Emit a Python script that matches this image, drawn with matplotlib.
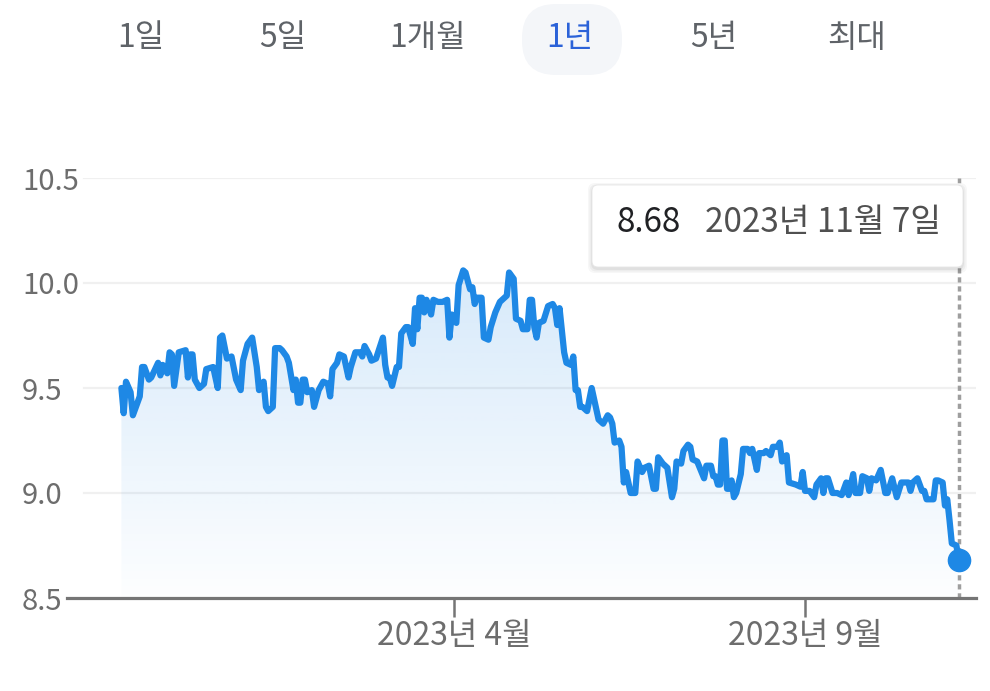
import numpy as np
import pandas as pd
import matplotlib
matplotlib.use('Agg')
import matplotlib.pyplot as plt
import matplotlib.dates as mdates
from matplotlib.patches import FancyBboxPatch
from matplotlib.transforms import blended_transform_factory, IdentityTransform

plt.rcParams['font.family'] = ['Noto Sans CJK KR', 'DejaVu Sans']

# ---------------- data ----------------
start_date = '2022-11-07'
day_offsets = [
    0, 1, 2, 4, 5, 8, 9, 10, 12, 13,
    16, 17, 18, 20, 21, 22, 23, 25, 28, 29,
    30, 31, 32, 34, 36, 37, 40, 42, 43, 44,
    46, 48, 50, 52, 53, 55, 57, 59, 60, 62,
    63, 64, 66, 67, 69, 70, 72, 73, 75, 76,
    77, 78, 79, 80, 81, 83, 84, 86, 88, 90,
    91, 92, 94, 95, 97, 99, 100, 102, 104, 105,
    106, 108, 109, 111, 114, 115, 116, 117, 118, 120,
    121, 122, 124, 125, 127, 128, 129, 130, 131, 132,
    133, 135, 136, 138, 140, 142, 143, 144, 146, 147,
    149, 150, 152, 153, 154, 155, 157, 158, 160, 161,
    163, 165, 166, 168, 169, 171, 172, 174, 175, 177,
    178, 179, 180, 181, 182, 184, 186, 188, 189, 190,
    191, 193, 194, 196, 197, 198, 199, 200, 201, 203,
    205, 206, 208, 210, 212, 213, 214, 215, 217, 218,
    219, 220, 222, 224, 225, 227, 228, 230, 232, 233,
    234, 236, 238, 240, 241, 242, 244, 245, 247, 248,
    249, 251, 254, 255, 257, 258, 259, 260, 261, 262,
    263, 264, 265, 266, 267, 268, 270, 271, 273, 274,
    275, 277, 278, 280, 281, 283, 284, 286, 287, 288,
    290, 291, 294, 296, 297, 298, 300, 302, 303, 305,
    306, 307, 308, 310, 312, 314, 316, 317, 319, 320,
    322, 323, 325, 326, 327, 329, 331, 333, 334, 336,
    338, 340, 343, 344, 345, 347, 349, 350, 351, 354,
    355, 356, 358, 359, 360, 361, 362, 364, 365,
]
rates = [
    9.50, 9.38, 9.53, 9.48, 9.37, 9.46, 9.60, 9.60, 9.54, 9.55,
    9.62, 9.56, 9.61, 9.57, 9.67, 9.66, 9.51, 9.67, 9.68, 9.55,
    9.66, 9.66, 9.54, 9.50, 9.52, 9.59, 9.60, 9.50, 9.74, 9.75,
    9.64, 9.65, 9.54, 9.49, 9.63, 9.71, 9.74, 9.60, 9.49, 9.53,
    9.41, 9.39, 9.41, 9.69, 9.69, 9.68, 9.65, 9.62, 9.49, 9.54,
    9.43, 9.43, 9.54, 9.54, 9.48, 9.49, 9.41, 9.49, 9.53, 9.52,
    9.46, 9.59, 9.62, 9.66, 9.65, 9.55, 9.60, 9.67, 9.67, 9.65,
    9.70, 9.66, 9.63, 9.64, 9.74, 9.61, 9.55, 9.55, 9.51, 9.60,
    9.60, 9.76, 9.79, 9.79, 9.71, 9.88, 9.78, 9.93, 9.93, 9.86,
    9.92, 9.85, 9.92, 9.91, 9.91, 9.92, 9.74, 9.85, 9.81, 9.99,
    10.06, 10.05, 9.97, 9.98, 9.90, 9.93, 9.93, 9.74, 9.73, 9.79,
    9.86, 9.91, 9.92, 9.94, 10.05, 10.02, 9.83, 9.82, 9.78, 9.78,
    9.92, 9.92, 9.79, 9.74, 9.81, 9.82, 9.89, 9.90, 9.88, 9.80,
    9.88, 9.67, 9.62, 9.61, 9.65, 9.49, 9.49, 9.41, 9.41, 9.39,
    9.50, 9.45, 9.35, 9.33, 9.37, 9.36, 9.33, 9.24, 9.25, 9.22,
    9.05, 9.10, 9.00, 9.00, 9.15, 9.10, 9.12, 9.13, 9.02, 9.02,
    9.17, 9.14, 9.12, 8.98, 9.02, 9.15, 9.14, 9.20, 9.23, 9.22,
    9.16, 9.15, 9.07, 9.13, 9.13, 9.08, 9.08, 9.04, 9.04, 9.25,
    9.25, 9.02, 9.02, 9.06, 8.98, 9.00, 9.09, 9.21, 9.21, 9.19,
    9.21, 9.11, 9.19, 9.19, 9.20, 9.18, 9.22, 9.22, 9.24, 9.15,
    9.18, 9.05, 9.04, 9.03, 9.10, 9.01, 9.01, 8.98, 9.04, 9.07,
    9.00, 9.07, 9.07, 9.00, 9.00, 8.99, 9.05, 8.99, 9.09, 9.00,
    9.00, 9.08, 9.07, 9.01, 9.07, 9.06, 9.11, 9.00, 9.00, 9.07,
    8.98, 9.05, 9.05, 9.01, 9.05, 9.07, 9.01, 9.01, 8.97, 8.97,
    9.06, 9.06, 9.05, 8.94, 8.97, 8.87, 8.76, 8.75, 8.68,
]
y_ticks = [8.5, 9.0, 9.5, 10.0, 10.5]
y_tick_labels = ['8.5', '9.0', '9.5', '10.0', '10.5']
x_tick_dates = ['2023-04-01', '2023-09-01']
x_tick_labels = ['2023년 4월', '2023년 9월']
range_tabs = ['1일', '5일', '1개월', '1년', '5년', '최대']
selected_tab = '1년'
tooltip_value = '8.68'
tooltip_date = '2023년 11월 7일'

# ---------------- figure ----------------
W, H = 990, 691
fig = plt.figure(figsize=(W / 100, H / 100), dpi=100)
fig.patch.set_facecolor('white')


def fx(px):
    return px / W


def fy(py):
    return 1 - py / H


ax_left, ax_right, ax_top, ax_bottom = 67, 976, 178, 598
ax = fig.add_axes([fx(ax_left), fy(ax_bottom), (ax_right - ax_left) / W, (ax_bottom - ax_top) / H])
ax.set_facecolor('none')

dates = pd.Timestamp(start_date) + pd.to_timedelta(day_offsets, unit='D')
xnum = mdates.date2num(dates)
t0 = mdates.date2num(pd.Timestamp(start_date))
px_per_day = 2.294
xmin = t0 - (121.4 - ax_left) / px_per_day
xmax = t0 + (ax_right - 121.4) / px_per_day

LINE = '#1e88e5'

# gradient fill under the line
poly = ax.fill_between(xnum, rates, y_ticks[0], color='none', lw=0)
ytop = max(rates)
n = 256
grad = np.zeros((n, 1, 4))
grad[:, 0, 0] = 30 / 255
grad[:, 0, 1] = 136 / 255
grad[:, 0, 2] = 229 / 255
grad[:, 0, 3] = np.linspace(0.01, 0.18, n)
im = ax.imshow(grad, extent=[xnum[0], xnum[-1], y_ticks[0], ytop], aspect='auto',
               origin='lower', zorder=1, interpolation='bilinear')
im.set_clip_path(poly.get_paths()[0], transform=ax.transData)

# grid lines
for yv in y_ticks[1:]:
    ax.axhline(yv, xmin=(84 - ax_left) / (ax_right - ax_left), xmax=1,
               color='#f0f0f0', lw=1.6, zorder=0)

# dashed hover line
ax.axvline(xnum[-1], color='#9e9e9e', lw=2.5, ls=(0, (1.5, 1.1)), zorder=2)

ax.plot(xnum, rates, color=LINE, lw=4.5, solid_joinstyle='round',
        solid_capstyle='round', zorder=3)
ax.plot([xnum[-1]], [rates[-1]], 'o', ms=16, color=LINE, zorder=4, clip_on=False)

ax.set_xlim(xmin, xmax)
ax.set_ylim(y_ticks[0], y_ticks[-1])

for s in ['top', 'right', 'left']:
    ax.spines[s].set_visible(False)
ax.spines['bottom'].set_color('#757575')
ax.spines['bottom'].set_linewidth(2.3)
ax.spines['bottom'].set_zorder(5)

ax.set_yticks([])
ax.set_xticks([mdates.date2num(pd.Timestamp(d)) for d in x_tick_dates])
ax.set_xticklabels(x_tick_labels)
ax.tick_params(axis='x', length=14, width=1.8, color='#757575', pad=2,
               labelsize=23, labelcolor='#6d6d6d')

# y labels, left aligned
tr = blended_transform_factory(fig.transFigure, ax.transData)
for yv, lab in zip(y_ticks, y_tick_labels):
    fig.text(fx(22), yv, lab, transform=tr, ha='left', va='center_baseline',
             fontsize=21, color='#6d6d6d')

# ---------------- range tabs ----------------
idt = IdentityTransform()
pill = FancyBboxPatch((522, H - 75), 100, 71,
                      boxstyle='round,pad=0,rounding_size=34',
                      transform=idt, facecolor='#f4f6f9', edgecolor='none', zorder=1)
fig.patches.append(pill)
tab_centers = [141, 283, 428, 570, 714, 857]
for cx, lab in zip(tab_centers, range_tabs):
    col = '#2b62d8' if lab == selected_tab else '#5f6368'
    fig.text(fx(cx), fy(38), lab, ha='center', va='center', fontsize=23, color=col)

# ---------------- tooltip ----------------
bx0, by0, bx1, by1 = 592, 185, 963, 267
for i, a in enumerate([0.05, 0.04, 0.03]):
    g = 1 + i * 1.5
    sh = FancyBboxPatch((bx0 - g, H - by1 - 2 - g), (bx1 - bx0) + 2 * g, (by1 - by0) + 2 * g,
                        boxstyle='round,pad=0,rounding_size=7', transform=idt,
                        facecolor='black', edgecolor='none', alpha=a, zorder=2)
    fig.patches.append(sh)
box = FancyBboxPatch((bx0, H - by1), bx1 - bx0, by1 - by0,
                     boxstyle='round,pad=0,rounding_size=6', transform=idt,
                     facecolor='white', edgecolor='#e6e6e6', lw=0.6, zorder=2.5)
fig.patches.append(box)
fig.text(fx(616), fy(223), tooltip_value, ha='left', va='center', fontsize=24,
         color='#202124', zorder=4)
fig.text(fx(705), fy(223), tooltip_date, ha='left', va='center', fontsize=24,
         color='#505050', zorder=4)

fig.savefig('out.png', dpi=100, facecolor='white')
